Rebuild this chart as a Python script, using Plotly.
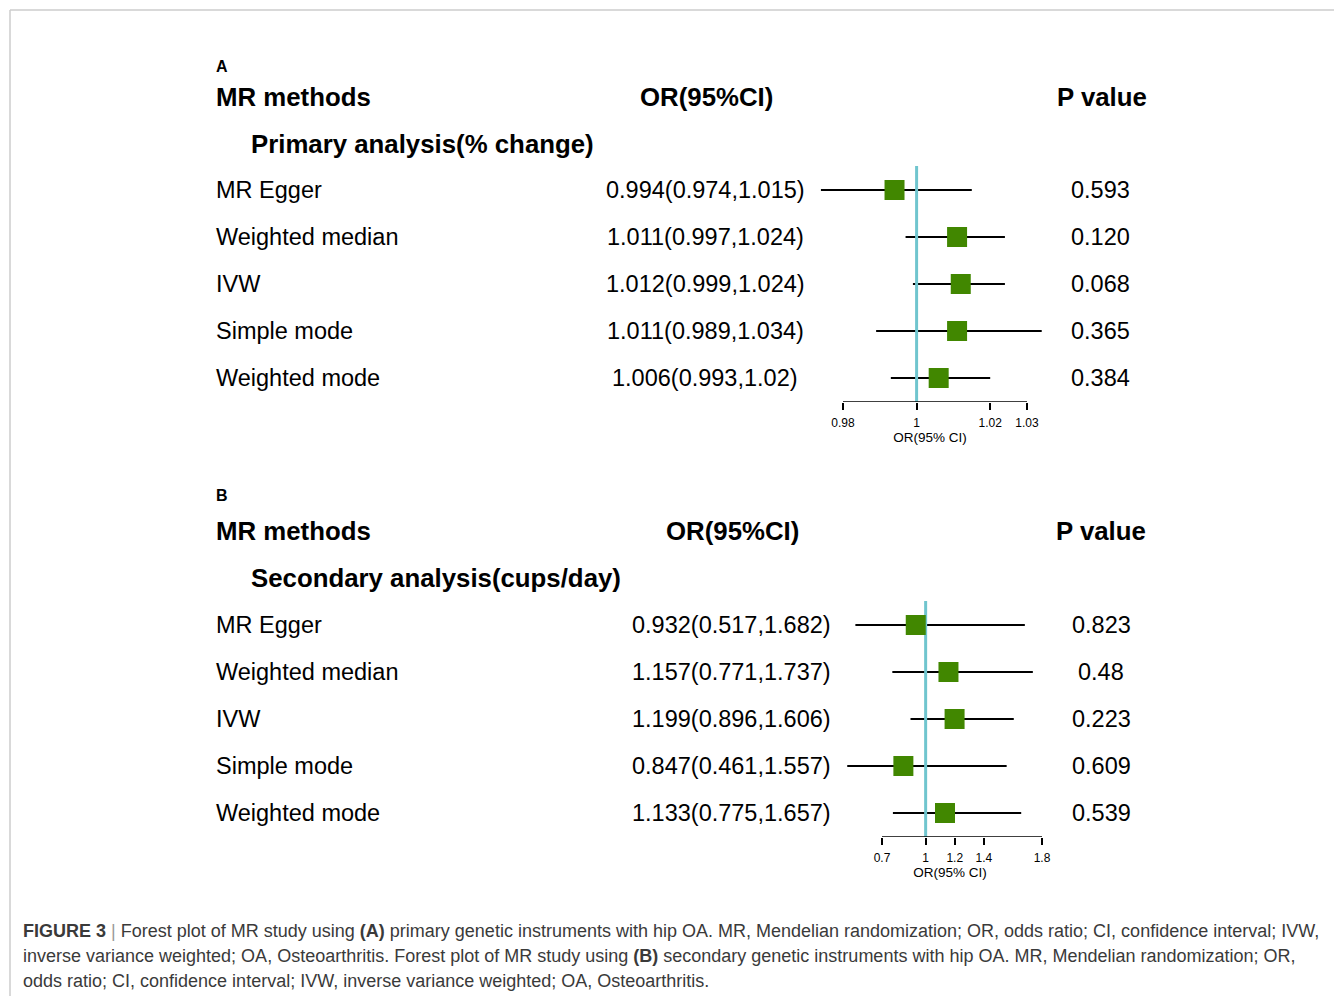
import plotly.graph_objects as go

W, H = 1342, 996

# ---------------- data ----------------
methods = ["MR Egger", "Weighted median", "IVW", "Simple mode", "Weighted mode"]

a_or = [0.994, 1.011, 1.012, 1.011, 1.006]
a_lo = [0.974, 0.997, 0.999, 0.989, 0.993]
a_hi = [1.015, 1.024, 1.024, 1.034, 1.02]
a_or_text = ["0.994(0.974,1.015)", "1.011(0.997,1.024)", "1.012(0.999,1.024)",
             "1.011(0.989,1.034)", "1.006(0.993,1.02)"]
a_p = ["0.593", "0.120", "0.068", "0.365", "0.384"]
a_ticks = [0.98, 1, 1.02, 1.03]
a_ticktext = ["0.98", "1", "1.02", "1.03"]

b_or = [0.932, 1.157, 1.199, 0.847, 1.133]
b_lo = [0.517, 0.771, 0.896, 0.461, 0.775]
b_hi = [1.682, 1.737, 1.606, 1.557, 1.657]
b_or_text = ["0.932(0.517,1.682)", "1.157(0.771,1.737)", "1.199(0.896,1.606)",
             "0.847(0.461,1.557)", "1.133(0.775,1.657)"]
b_p = ["0.823", "0.48", "0.223", "0.609", "0.539"]
b_ticks = [0.7, 1, 1.2, 1.4, 1.8]
b_ticktext = ["0.7", "1", "1.2", "1.4", "1.8"]

rows = [-1, -2, -3, -4, -5]

# ---------------- styles ----------------
GREEN = "#418700"
TEAL = "#70C5CE"
FONT = "Liberation Sans, Arial, sans-serif"
OFF = 8  # page body margin


def X(p):
    return (p - OFF) / W


def Y(p):
    return 1 - (p - OFF) / H


fig = go.Figure()


def panel(xa, ya, orv, lo, hi, axis_lo, axis_hi):
    # CI lines
    xs, ys = [], []
    for l, h, r in zip(lo, hi, rows):
        xs += [l, h, None]
        ys += [r, r, None]
    fig.add_trace(go.Scatter(x=xs, y=ys, mode="lines", xaxis=xa, yaxis=ya,
                             line=dict(color="black", width=2), hoverinfo="skip"))
    # reference line at 1
    fig.add_trace(go.Scatter(x=[1, 1], y=[-0.49, -5.51], mode="lines", xaxis=xa, yaxis=ya,
                             line=dict(color=TEAL, width=3), hoverinfo="skip"))
    # point estimates
    fig.add_trace(go.Scatter(x=orv, y=rows, mode="markers", xaxis=xa, yaxis=ya,
                             marker=dict(symbol="square", size=20, color=GREEN,
                                         line=dict(width=0))))
    # axis line
    fig.add_trace(go.Scatter(x=[axis_lo, axis_hi], y=[-5.51, -5.51], mode="lines",
                             xaxis=xa, yaxis=ya, line=dict(color="black", width=1.5),
                             hoverinfo="skip"))


panel("x", "y", a_or, a_lo, a_hi, a_ticks[0], a_ticks[-1])
panel("x2", "y2", b_or, b_lo, b_hi, b_ticks[0], b_ticks[-1])

# axis geometry (pixel based)
a_scale = (1027 - 843) / (1.03 - 0.98)
a_range = [0.98 + (800 - 843) / a_scale, 0.98 + (1060 - 843) / a_scale]
b_scale = (1042 - 882) / (1.8 - 0.7)
b_range = [0.7 + (840 - 882) / b_scale, 0.7 + (1060 - 882) / b_scale]

common_x = dict(showgrid=False, zeroline=False, showline=False, ticks="outside",
                ticklen=7, tickwidth=1.5, tickcolor="black", ticklabelstandoff=3,
                tickfont=dict(family=FONT, size=12, color="black"),
                title=dict(text="OR(95% CI)", font=dict(family=FONT, size=13.5, color="black"),
                           standoff=3),
                fixedrange=True)
common_y = dict(showgrid=False, zeroline=False, showline=False, showticklabels=False,
                ticks="", range=[-5.51, -0.49], fixedrange=True)

layout = dict(
    width=W, height=H, margin=dict(l=0, r=0, t=0, b=0),
    paper_bgcolor="white", plot_bgcolor="rgba(0,0,0,0)", showlegend=False,
    xaxis=dict(domain=[X(800), X(1060)], range=a_range, anchor="y",
               tickvals=a_ticks, ticktext=a_ticktext, **common_x),
    yaxis=dict(domain=[Y(402), Y(166)], anchor="x", **common_y),
    xaxis2=dict(domain=[X(840), X(1060)], range=b_range, anchor="y2",
                tickvals=b_ticks, ticktext=b_ticktext, **common_x),
    yaxis2=dict(domain=[Y(837), Y(601)], anchor="x2", **common_y),
)
fig.update_layout(**layout)

ann = []


def txt(text, x, y, size, bold=False, xanchor="left", yref="paper", color="black"):
    ann.append(dict(text=("<b>%s</b>" % text) if bold else text,
                    x=X(x), y=(Y(y) if yref == "paper" else y), xref="paper", yref=yref,
                    xanchor=xanchor, yanchor="middle", showarrow=False,
                    font=dict(family=FONT, size=size, color=color)))


HS = 25.8  # header size
RS = 23.5  # row size

# Panel A text
txt("A", 214, 66, 16, bold=True)
txt("MR methods", 214, 97, HS, bold=True)
txt("OR(95%CI)", 706, 97, HS, bold=True, xanchor="center")
txt("P value", 1102, 97, HS, bold=True, xanchor="center")
txt("Primary analysis(% change)", 249, 144, HS, bold=True)
for m, o, p, r in zip(methods, a_or_text, a_p, rows):
    txt(m, 214, r, RS, yref="y")
    txt(o, 705, r, RS, xanchor="center", yref="y")
    txt(p, 1100, r, RS, xanchor="center", yref="y")

# Panel B text
txt("B", 214, 495, 16, bold=True)
txt("MR methods", 214, 531, HS, bold=True)
txt("OR(95%CI)", 732, 531, HS, bold=True, xanchor="center")
txt("P value", 1101, 531, HS, bold=True, xanchor="center")
txt("Secondary analysis(cups/day)", 249, 578, HS, bold=True)
for m, o, p, r in zip(methods, b_or_text, b_p, rows):
    txt(m, 214, r, RS, yref="y2")
    txt(o, 731, r, RS, xanchor="center", yref="y2")
    txt(p, 1101, r, RS, xanchor="center", yref="y2")

# Caption
CAP = "#3a3a3a"
cap_lines = [
    "<b>FIGURE 3</b> <span style='color:#9a9a9a'>|</span> Forest plot of MR study using <b>(A)</b> primary genetic instruments with hip OA. MR, Mendelian randomization; OR, odds ratio; CI, confidence interval; IVW,",
    "inverse variance weighted; OA, Osteoarthritis. Forest plot of MR study using <b>(B)</b> secondary genetic instruments with hip OA. MR, Mendelian randomization; OR,",
    "odds ratio; CI, confidence interval; IVW, inverse variance weighted; OA, Osteoarthritis.",
]
for i, line in enumerate(cap_lines):
    txt(line, 21, 931 + 25 * i, 18, color=CAP)

fig.update_layout(annotations=ann)

# frame lines
fig.update_layout(shapes=[
    dict(type="line", xref="paper", yref="paper", x0=X(10), x1=1, y0=Y(10), y1=Y(10),
         line=dict(color="#cccccc", width=1.5)),
    dict(type="line", xref="paper", yref="paper", x0=X(10), x1=X(10), y0=Y(10), y1=0,
         line=dict(color="#cccccc", width=1.5)),
])

fig.write_html("out.html")
